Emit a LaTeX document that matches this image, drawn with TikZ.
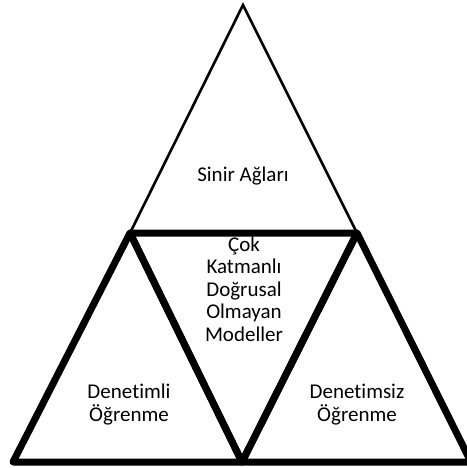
\documentclass[tikz,border=0pt]{standalone}
\usepackage{fontspec}
\setmainfont{Carlito}[Ligatures={NoCommon}]
\begin{document}
\begin{tikzpicture}[x=1pt,y=-1pt,
  thinedge/.style={draw=black,line width=2.6pt,line join=miter},
  thickedge/.style={draw=black,line width=7pt,line join=round},
  lbl/.style={align=center,inner sep=0pt,anchor=base,font=\fontsize{21}{22.5}\selectfont}]
\useasboundingbox (0,0) rectangle (466,468);
\fill[white] (0,0) rectangle (466,468);
% corner coordinates
\coordinate (apex) at (243,5);
\coordinate (tl) at (130,233);
\coordinate (tr) at (357,233);
\coordinate (bl) at (13,462);
\coordinate (bm) at (242,462);
\coordinate (br) at (471,462);
% top (thin) triangle
\draw[thinedge] (apex) -- (tr) -- (tl) -- cycle;
% thick triangles
\draw[thickedge] (tl) -- (bm) -- (bl) -- cycle;
\draw[thickedge] (tl) -- (tr) -- (bm) -- cycle;
\draw[thickedge] (tr) -- (br) -- (bm) -- cycle;
% labels (anchor base = baseline of last line)
\node[lbl] (top) at (243,181) {Sinir Ağları};
\node[lbl] (mid) at (244,341) {Çok\\Katmanlı\\Doğrusal\\Olmayan\\Modeller};
\node[lbl] (left) at (129,421) {Denetimli\\Öğrenme};
\node[lbl] (right) at (357,421) {Denetimsiz\\Öğrenme};
\end{tikzpicture}
\end{document}
